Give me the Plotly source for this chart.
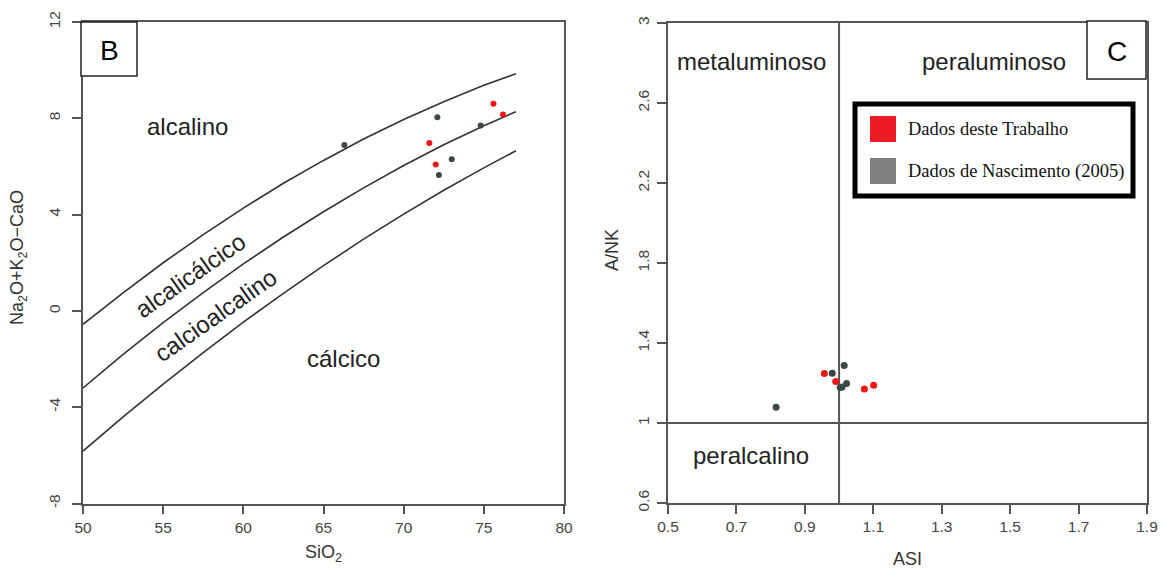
import plotly.graph_objects as go

W, H = 1163, 568

# ---------------- data ----------------
# Panel B: MALI diagram
sio2_grid = [50, 52.5, 55, 57.5, 60, 62.5, 65, 67.5, 70, 72.5, 75, 77]
bound_alk = [-0.56, 0.75, 2.00, 3.17, 4.27, 5.30, 6.25, 7.14, 7.95, 8.69, 9.37, 9.85]
bound_ac = [-3.20, -1.81, -0.49, 0.76, 1.95, 3.07, 4.12, 5.11, 6.04, 6.90, 7.69, 8.27]
bound_ca = [-5.82, -4.40, -3.04, -1.73, -0.47, 0.73, 1.88, 2.98, 4.02, 5.01, 5.94, 6.65]

sio2_red = [75.6, 76.2, 71.6, 72.0]
mali_red = [8.60, 8.16, 6.97, 6.08]
sio2_grey = [66.3, 72.1, 74.8, 73.0, 72.2]
mali_grey = [6.89, 8.04, 7.70, 6.30, 5.65]

# Panel C: Shand diagram
asi_red = [0.957, 0.990, 1.074, 1.101]
ank_red = [1.247, 1.207, 1.170, 1.189]
asi_grey = [1.015, 0.980, 1.009, 1.022, 1.003, 0.816]
ank_grey = [1.287, 1.249, 1.180, 1.197, 1.177, 1.079]

xticks_b = [50, 55, 60, 65, 70, 75, 80]
yticks_b = [12, 8, 4, 0, -4, -8]
yticks_b_text = ["12", "8", "4", "0", "-4", "-8"]
xticks_c = [0.5, 0.7, 0.9, 1.1, 1.3, 1.5, 1.7, 1.9]
yticks_c = [0.6, 1, 1.4, 1.8, 2.2, 2.6, 3]

legend_labels = ["Dados deste Trabalho", "Dados de Nascimento (2005)"]
legend_colors = ["#ed1c24", "#7f7f7f"]

RED = "#f41414"
DARK = "#3b4848"
LINE = "#333333"
AXC = "#555555"


def px(x):
    return x / W


def py(y):
    return 1 - y / H


fig = go.Figure()

# boundary curves
for b in (bound_alk, bound_ac, bound_ca):
    fig.add_trace(go.Scatter(x=sio2_grid, y=b, mode="lines",
                             line=dict(color=LINE, width=1.6),
                             xaxis="x", yaxis="y", showlegend=False, hoverinfo="skip"))

fig.add_trace(go.Scatter(x=sio2_grey, y=mali_grey, mode="markers",
                         marker=dict(color=DARK, size=6), xaxis="x", yaxis="y",
                         showlegend=False))
fig.add_trace(go.Scatter(x=sio2_red, y=mali_red, mode="markers",
                         marker=dict(color=RED, size=6), xaxis="x", yaxis="y",
                         showlegend=False))

# Panel C divider lines
fig.add_trace(go.Scatter(x=[1, 1], y=[0.6, 3], mode="lines",
                         line=dict(color=AXC, width=2), xaxis="x2", yaxis="y2",
                         showlegend=False, hoverinfo="skip"))
fig.add_trace(go.Scatter(x=[0.5, 1.9], y=[1, 1], mode="lines",
                         line=dict(color=AXC, width=2), xaxis="x2", yaxis="y2",
                         showlegend=False, hoverinfo="skip"))
fig.add_trace(go.Scatter(x=asi_grey, y=ank_grey, mode="markers",
                         marker=dict(color=DARK, size=7), xaxis="x2", yaxis="y2",
                         showlegend=False))
fig.add_trace(go.Scatter(x=asi_red, y=ank_red, mode="markers",
                         marker=dict(color=RED, size=7), xaxis="x2", yaxis="y2",
                         showlegend=False))

axis_common = dict(showgrid=False, zeroline=False, showline=True, mirror=True,
                   linecolor=AXC, linewidth=1.5, ticks="outside", ticklen=9,
                   tickwidth=1.5, tickcolor=AXC, automargin=False,
                   tickfont=dict(family="Liberation Sans, Arial", size=15.5, color="#444"))

fig.update_layout(
    width=W, height=H,
    margin=dict(l=0, r=0, t=0, b=0, autoexpand=False),
    paper_bgcolor="white", plot_bgcolor="white",
    xaxis=dict(axis_common, domain=[px(83), px(564)], range=[50, 80],
               tickvals=xticks_b, anchor="y"),
    yaxis=dict(axis_common, domain=[py(503.5), py(22)], range=[-8, 12],
               tickvals=yticks_b, ticktext=yticks_b_text, tickangle=-90,
               anchor="x", ticklabelstandoff=6),
    xaxis2=dict(axis_common, domain=[px(668), px(1147)], range=[0.5, 1.9],
                tickvals=xticks_c, ticktext=[str(v) for v in xticks_c], anchor="y2"),
    yaxis2=dict(axis_common, domain=[py(503), py(23)], range=[0.6, 3],
                tickvals=yticks_c, ticktext=[str(v) for v in yticks_c],
                tickangle=-90, anchor="x2", ticklabelstandoff=2),
    showlegend=False,
)

ann = []
lab_font = dict(family="Liberation Sans, Arial", size=24, color="#222")
axt_font = dict(family="Liberation Sans, Arial", size=18, color="#333")


def A(text, x, y, font, angle=0, **kw):
    ann.append(dict(text=text, x=px(x), y=py(y), xref="paper", yref="paper",
                    showarrow=False, font=font, textangle=angle,
                    xanchor="center", yanchor="middle", **kw))


# Panel B labels
A("alcalino", 187, 127, lab_font)
A("cálcico", 343, 358, lab_font)
A("alcalicálcico", 190, 275, lab_font, angle=-35)
A("calcioalcalino", 215, 315, lab_font, angle=-35)
A("SiO<sub>2</sub>", 323, 553, axt_font)
A("Na<sub>2</sub>O+K<sub>2</sub>O−CaO", 18, 258, axt_font, angle=-90)

# Panel C labels
A("metaluminoso", 751, 62, lab_font)
A("peraluminoso", 994, 62, lab_font)
A("peralcalino", 751, 455, lab_font)
A("ASI", 907, 559, axt_font)
A("A/NK", 612, 250, axt_font, angle=-90)

# Panel letters
shapes = []
box_font = dict(family="Liberation Sans, Arial", size=28, color="black")
shapes.append(dict(type="rect", xref="paper", yref="paper",
                   x0=px(81), x1=px(137), y0=py(76), y1=py(22),
                   line=dict(color="#222", width=1.5), fillcolor="white", layer="above"))
A("B", 109, 50, box_font)
shapes.append(dict(type="rect", xref="paper", yref="paper",
                   x0=px(1087), x1=px(1146), y0=py(79), y1=py(21),
                   line=dict(color="#222", width=1.5), fillcolor="white", layer="above"))
A("C", 1116.5, 51, box_font)

# Legend box
shapes.append(dict(type="rect", xref="paper", yref="paper",
                   x0=px(855), x1=px(1133), y0=py(196), y1=py(104),
                   line=dict(color="black", width=5), fillcolor="white", layer="above"))
leg_font = dict(family="Liberation Serif, Times New Roman", size=18.5, color="#111")
for i, (lab, col) in enumerate(zip(legend_labels, legend_colors)):
    yc = 129 + i * 42
    shapes.append(dict(type="rect", xref="paper", yref="paper",
                       x0=px(870), x1=px(896), y0=py(yc + 13), y1=py(yc - 13),
                       line=dict(color=col, width=0), fillcolor=col, layer="above"))
    ann.append(dict(text=lab, x=px(906), y=py(yc), xref="paper", yref="paper",
                    showarrow=False, font=leg_font, xanchor="left", yanchor="middle"))

fig.update_layout(annotations=ann, shapes=shapes)

fig.write_html("out.html")
